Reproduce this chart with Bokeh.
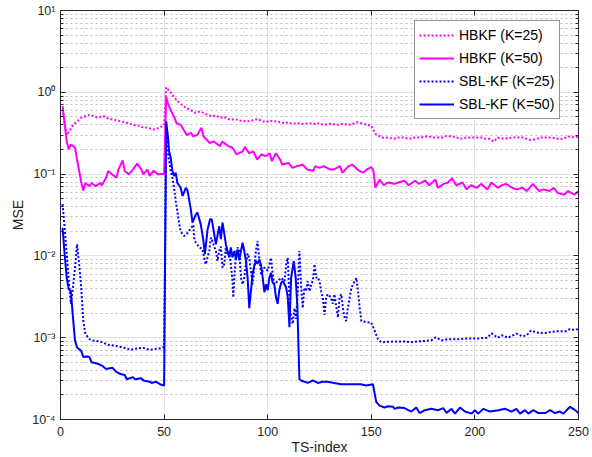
from bokeh.plotting import figure
from bokeh.models import (Legend, LegendItem, LinearAxis, LogAxis, FixedTicker)
from bokeh.embed import file_html
from bokeh.resources import INLINE

# ---------------- data ----------------
hb25_x = [1, 3, 5, 6, 8, 10, 12, 14, 16, 18, 21, 23, 26, 28, 31, 33, 35, 38, 40, 42, 45, 48, 50,
          51, 53, 55, 57, 58, 60, 61, 63, 65, 67, 69, 71, 73, 75, 77, 79, 82, 84, 87, 90, 92, 95,
          97, 99, 101, 104, 106, 108, 110, 112, 114, 117, 120, 123, 125, 127, 130, 134, 136, 139,
          141, 143, 145, 148, 150, 152, 154, 156, 158, 161, 163, 166, 168, 171, 174, 177, 180,
          184, 186, 189, 191, 193, 196, 200, 203, 205, 207, 209, 211, 214, 218, 220, 223, 225,
          227, 230, 232, 235, 237, 240, 242, 244, 246, 248, 250]
hb25_y = [0.62, 0.30, 0.36, 0.40, 0.44, 0.49, 0.51, 0.53, 0.51, 0.49, 0.51, 0.48, 0.46, 0.45, 0.43,
          0.42, 0.40, 0.39, 0.37, 0.37, 0.35, 0.37, 0.40,
          1.15, 1.01, 0.86, 0.76, 0.72, 0.66, 0.64, 0.60, 0.56, 0.58, 0.56, 0.53, 0.51, 0.52, 0.49,
          0.50, 0.46, 0.47, 0.45, 0.44, 0.45, 0.47, 0.45, 0.43, 0.45, 0.44, 0.43, 0.42, 0.43, 0.41,
          0.42, 0.41, 0.42, 0.41, 0.42, 0.40, 0.41, 0.40, 0.41, 0.40, 0.41, 0.43, 0.42, 0.40, 0.39,
          0.31, 0.29, 0.277, 0.28, 0.27, 0.28, 0.28, 0.27, 0.28, 0.28, 0.29, 0.28, 0.28, 0.29, 0.29,
          0.28, 0.27, 0.28, 0.28, 0.28, 0.27, 0.27, 0.25, 0.28, 0.27, 0.28, 0.28, 0.28, 0.27, 0.26,
          0.27, 0.28, 0.28, 0.28, 0.27, 0.27, 0.28, 0.29, 0.28, 0.29]

hb50_x = [1, 3, 4, 5, 6, 7, 8, 10, 11, 12, 14, 15, 17, 19, 20, 22, 23, 25, 27, 28, 30, 31, 33, 35,
          37, 39, 40, 42, 43, 45, 47, 48, 50, 51, 52, 53, 54, 55, 56, 58, 60, 61, 63, 64, 66, 68,
          69, 72, 74, 77, 78, 81, 83, 85, 88, 89, 91, 93, 95, 97, 99, 101, 102, 104, 106, 107,
          110, 112, 114, 117, 119, 122, 123, 125, 127, 130, 132, 135, 136, 139, 141, 144, 146,
          148, 150, 151, 152, 154, 156, 158, 161, 163, 166, 168, 171, 173, 176, 178, 181, 182,
          185, 187, 189, 191, 194, 196, 198, 201, 203, 206, 208, 211, 213, 215, 218, 220, 223,
          225, 228, 231, 233, 236, 238, 240, 243, 245, 248, 250]
hb50_y = [0.68, 0.25, 0.20, 0.23, 0.22, 0.21, 0.15, 0.08, 0.063, 0.078, 0.071, 0.078, 0.071, 0.078,
          0.073, 0.09, 0.109, 0.099, 0.09, 0.114, 0.147, 0.109, 0.099, 0.114, 0.134, 0.114, 0.099,
          0.114, 0.095, 0.11, 0.099, 0.10, 0.10, 0.88, 0.71, 0.62, 0.55, 0.49, 0.42, 0.40, 0.33,
          0.30, 0.32, 0.29, 0.30, 0.37, 0.29, 0.24, 0.25, 0.22, 0.25, 0.22, 0.21, 0.174, 0.19,
          0.215, 0.18, 0.19, 0.151, 0.174, 0.166, 0.18, 0.144, 0.18, 0.15, 0.131, 0.137, 0.119,
          0.125, 0.13, 0.114, 0.11, 0.125, 0.119, 0.125, 0.114, 0.114, 0.125, 0.104, 0.125, 0.13,
          0.11, 0.104, 0.115, 0.122, 0.11, 0.068, 0.086, 0.073, 0.079, 0.076, 0.079, 0.083, 0.073,
          0.083, 0.076, 0.083, 0.073, 0.086, 0.068, 0.076, 0.079, 0.089, 0.073, 0.079, 0.065,
          0.073, 0.068, 0.076, 0.065, 0.079, 0.068, 0.073, 0.076, 0.068, 0.065, 0.068, 0.062,
          0.076, 0.062, 0.065, 0.062, 0.068, 0.059, 0.056, 0.062, 0.056, 0.062]

sbl25_x = [1, 2, 3, 4, 5, 6, 7, 8, 9, 10, 11, 12, 14, 16, 19, 23, 26, 29, 31, 34, 37, 40, 43, 46,
           48, 50, 51, 52.0, 53.2, 54.0, 54.8, 55.6, 56.4, 57.2, 58.0, 58.9, 59.7, 61.3, 62.9,
           64.1, 64.5, 65.3, 67.0, 68.5, 69.3, 70.1, 71.8, 72.6, 73.4, 74.2, 75.0, 75.8, 76.6,
           77.4, 78.2, 79.0, 79.8, 80.3, 81.4, 82.2, 83.0, 83.4, 83.9, 84.7, 85.5, 86.3, 87.1,
           87.9, 88.7, 89.5, 90.3, 91.1, 91.9, 92.7, 93.5, 94.3, 95.1, 95.9, 96.8, 98.4, 100.0,
           101.6, 102.4, 103.2, 104.8, 106.5, 108.1, 108.9, 109.7, 110.2, 110.8, 112.1, 112.9,
           113.7, 114.5, 115.3, 116.1, 116.9, 117.7, 118.5, 119.3, 120.2, 121.0, 121.8, 122.6,
           123.4, 124.2, 125.0, 125.8, 126.6, 127.4, 128.2, 129.0, 130.6, 131.4, 132.2, 133.9,
           134.7, 135.5, 136.3, 137.1, 137.9, 138.7, 140.4, 142.0, 142.8, 143.6, 144.4, 145.2,
           147.5, 150.0, 151.6, 153.2, 154.8, 158, 161, 166, 169, 172, 175, 179, 181, 184, 187,
           192, 197, 202, 206, 208, 211, 213, 216, 220, 223, 225, 227, 231, 234, 237, 240, 244,
           246, 248, 250]
sbl25_y = [0.043, 0.022, 0.0105, 0.005, 0.0026, 0.0041, 0.0072, 0.0139, 0.0079, 0.0041, 0.0016,
           0.00111, 0.00096, 0.00092, 0.0009, 0.00082, 0.0008, 0.00077, 0.00075, 0.00071, 0.00074,
           0.00075, 0.00071, 0.00073, 0.00074, 0.00077, 0.30, 0.17, 0.109, 0.09, 0.068, 0.047,
           0.035, 0.0255, 0.020, 0.0184, 0.0175, 0.019, 0.0218, 0.024, 0.0167, 0.0145, 0.0127,
           0.0121, 0.0095, 0.0079, 0.0115, 0.0167, 0.015, 0.013, 0.0115, 0.0087, 0.0115, 0.013,
           0.0072, 0.0079, 0.0127, 0.0107, 0.0115, 0.0079, 0.005, 0.0031, 0.0054, 0.0107, 0.0127,
           0.0115, 0.0054, 0.0045, 0.0054, 0.0079, 0.0107, 0.0094, 0.0066, 0.0045, 0.0072, 0.0115,
           0.0152, 0.0094, 0.006, 0.0072, 0.0066, 0.0095, 0.006, 0.0045, 0.0049, 0.0054, 0.0049,
           0.0079, 0.0095, 0.0045, 0.0021, 0.00147, 0.0023, 0.0017, 0.0037, 0.0115, 0.0045, 0.0023,
           0.0041, 0.0037, 0.0049, 0.0037, 0.0045, 0.005, 0.0079, 0.0054, 0.0055, 0.0049, 0.0037,
           0.0031, 0.0019, 0.0031, 0.0034, 0.0031, 0.0026, 0.0034, 0.00177, 0.0031, 0.0034, 0.0023,
           0.00177, 0.0016, 0.0023, 0.0041, 0.0049, 0.0054, 0.0037, 0.0023, 0.0016, 0.00155,
           0.00153, 0.00122, 0.00096, 0.00088, 0.00089, 0.0009, 0.0009, 0.00088, 0.0009, 0.00091,
           0.00093, 0.00101, 0.00093, 0.00096, 0.00096, 0.00098, 0.00098, 0.001, 0.00113, 0.001,
           0.00107, 0.001, 0.00112, 0.00104, 0.00107, 0.00122, 0.00114, 0.00114, 0.00118, 0.0012,
           0.0012, 0.00128, 0.00124, 0.00128]

sbl50_x = [1, 2, 3, 4, 5, 6, 7, 8, 10, 11, 13, 14, 15, 18, 20, 22, 25, 27, 29, 31, 32, 35, 36, 39,
           40, 43, 44, 46, 48, 50, 51, 51.9, 52.4, 53.2, 54.0, 54.8, 55.6, 56.4, 58.0, 58.9, 60.5,
           61.3, 62.9, 63.7, 65.3, 66.1, 67.7, 69.0, 69.7, 71.0, 72.2, 73.0, 74.2, 75.0, 75.8,
           76.6, 77.4, 78.2, 79.0, 79.8, 80.6, 81.4, 82.2, 83.0, 83.9, 84.7, 85.5, 86.3, 87.1,
           87.9, 88.7, 89.5, 90.3, 91.1, 91.9, 92.7, 93.5, 94.3, 95.1, 95.9, 96.8, 97.6, 98.4,
           99.2, 100.0, 100.8, 101.6, 102.4, 103.2, 104.0, 104.8, 105.6, 106.5, 107.3, 108.1,
           108.9, 109.7, 110.5, 111.3, 112.6, 113.5, 114.3, 115.3, 116.1, 119.3, 121.8, 124.2,
           126.5, 129, 132, 135.5, 138.7, 142, 145, 147.5, 150.8, 152.4, 154, 156.4, 158, 160.5,
           161.3, 163, 166, 169.3, 171.7, 173.3, 175.8, 179, 182.2, 184.7, 186.3, 188.7, 190.4,
           192.8, 195.2, 198.4, 200, 201.6, 204.1, 207.3, 211.3, 214.6, 217.7, 220, 221.8, 224.2,
           225.8, 228.2, 230.6, 233.9, 236.3, 238.7, 241, 242.7, 244.3, 245.9, 248.4, 250]
sbl50_y = [0.022, 0.0105, 0.0054, 0.0039, 0.0037, 0.0018, 0.00092, 0.00076, 0.00069, 0.00058,
           0.00059, 0.00058, 0.0005, 0.00048, 0.000456, 0.000415, 0.00043, 0.00038, 0.00036,
           0.00035, 0.00031, 0.00033, 0.00031, 0.00032, 0.0003, 0.00029, 0.00028, 0.00029,
           0.00027, 0.00026, 0.44, 0.28, 0.19, 0.158, 0.109, 0.095, 0.104, 0.078, 0.068, 0.054,
           0.068, 0.063, 0.037, 0.0255, 0.032, 0.034, 0.0243, 0.0152, 0.0105, 0.0211, 0.028, 0.028,
           0.0184, 0.0139, 0.018, 0.023, 0.016, 0.0255, 0.019, 0.0139, 0.0115, 0.0096, 0.0127,
           0.0096, 0.0115, 0.0091, 0.012, 0.0088, 0.0115, 0.0145, 0.0115, 0.0087, 0.0054, 0.0023,
           0.0037, 0.006, 0.0075, 0.0087, 0.008, 0.009, 0.0077, 0.0054, 0.0036, 0.0045, 0.0038,
           0.0054, 0.0062, 0.0047, 0.0045, 0.0031, 0.0026, 0.0038, 0.0047, 0.0049, 0.0045, 0.0041,
           0.0031, 0.00134, 0.0054, 0.0087, 0.0054, 0.0025, 0.00031, 0.0003, 0.00028, 0.0003,
           0.00028, 0.00029, 0.00029, 0.00028, 0.00027, 0.00027, 0.00027, 0.00027, 0.00026,
           0.00027, 0.000163, 0.000148, 0.00014, 0.000145, 0.000143, 0.000135, 0.00014, 0.000138,
           0.000125, 0.00014, 0.00012, 0.00013, 0.000135, 0.00013, 0.000138, 0.00012, 0.000135,
           0.000118, 0.00014, 0.000125, 0.000118, 0.00013, 0.000118, 0.000135, 0.000125, 0.00013,
           0.000135, 0.000125, 0.000135, 0.000118, 0.00013, 0.000118, 0.00013, 0.00012, 0.00012,
           0.00013, 0.00012, 0.000125, 0.000118, 0.00013, 0.000143, 0.00013, 0.00012]

series_labels = ["HBKF (K=25)", "HBKF (K=50)", "SBL-KF (K=25)", "SBL-KF (K=50)"]
x_ticks = [0, 50, 100, 150, 200, 250]
y_ticks = [1e-4, 1e-3, 1e-2, 1e-1, 1e0, 1e1]
y_tick_labels = ["10\u207b\u2074", "10\u207b\u00b3", "10\u207b\u00b2", "10\u207b\u00b9",
                 "10\u2070", "10\u00b9"]
y_minor = [m * d for d in [1e-4, 1e-3, 1e-2, 1e-1, 1e0] for m in range(2, 10)]
x_label = "TS-index"
y_label = "MSE"

# ---------------- figure ----------------
AX = "#262626"
FONT = "Liberation Sans"

p = figure(width=592, height=457, x_range=(0, 250), y_range=(1e-4, 10),
           y_axis_type="log", output_backend="svg", toolbar_location=None,
           min_border_left=60, min_border_right=14, min_border_top=10, min_border_bottom=38)
p.outline_line_color = AX
p.outline_line_width = 1
p.background_fill_color = "white"

p.xaxis.ticker = FixedTicker(ticks=x_ticks)
p.yaxis.ticker = FixedTicker(ticks=y_ticks, minor_ticks=y_minor)
p.yaxis.major_label_overrides = dict(zip(y_ticks, y_tick_labels))
p.xaxis.axis_label = x_label
p.yaxis.axis_label = y_label

for ax in [p.xaxis[0], p.yaxis[0]]:
    ax.axis_line_color = AX
    ax.axis_line_width = 1
    ax.major_tick_line_color = AX
    ax.minor_tick_line_color = AX
    ax.major_tick_in = 5
    ax.major_tick_out = 0
    ax.minor_tick_in = 3
    ax.minor_tick_out = 0
    ax.major_label_text_font = FONT
    ax.major_label_text_font_size = "12.5px"
    ax.major_label_text_color = AX
    ax.axis_label_text_font = FONT
    ax.axis_label_text_font_size = "14px"
    ax.axis_label_text_font_style = "normal"
    ax.axis_label_text_color = AX
p.xaxis.major_label_standoff = 7
p.xaxis.axis_label_standoff = 0
p.yaxis.major_label_standoff = 5
p.yaxis.axis_label_standoff = 3

# box axes (top / right), ticks only, empty labels
top = LinearAxis(ticker=FixedTicker(ticks=x_ticks),
                 major_label_overrides={t: "" for t in x_ticks})
right = LogAxis(ticker=FixedTicker(ticks=y_ticks, minor_ticks=y_minor),
                major_label_overrides={t: "" for t in y_ticks})
for ax in [top, right]:
    ax.axis_line_color = AX
    ax.major_tick_line_color = AX
    ax.minor_tick_line_color = AX
    ax.major_tick_in = 5
    ax.major_tick_out = 0
    ax.minor_tick_in = 3
    ax.minor_tick_out = 0
    ax.major_label_standoff = 0
p.add_layout(top, "above")
p.add_layout(right, "right")

# grids
p.xgrid.grid_line_color = "#E3E3E3"
p.ygrid.grid_line_color = "#E3E3E3"
p.ygrid.minor_grid_line_color = "#BEBEBE"
p.ygrid.minor_grid_line_dash = "2 3"

# lines
r1 = p.line(hb25_x, hb25_y, line_color="#FF00FF", line_width=2, line_dash="2 2")
r2 = p.line(hb50_x, hb50_y, line_color="#FF00FF", line_width=2)
r3 = p.line(sbl25_x, sbl25_y, line_color="#0000FF", line_width=2, line_dash="2 2")
r4 = p.line(sbl50_x, sbl50_y, line_color="#0000FF", line_width=2)

legend = Legend(items=[LegendItem(label=series_labels[i], renderers=[r])
                       for i, r in enumerate([r1, r2, r3, r4])],
                location=(354, 300))
legend.label_text_font = FONT
legend.label_text_font_size = "14px"
legend.label_text_color = "black"
legend.glyph_width = 35
legend.glyph_height = 20
legend.label_height = 20
legend.label_width = 96
legend.label_standoff = 5
legend.spacing = 3
legend.padding = 4
legend.margin = 0
legend.border_line_color = AX
legend.border_line_width = 1
legend.background_fill_color = "white"
legend.background_fill_alpha = 1
p.add_layout(legend)

open("out.html", "w").write(file_html(p, INLINE))
